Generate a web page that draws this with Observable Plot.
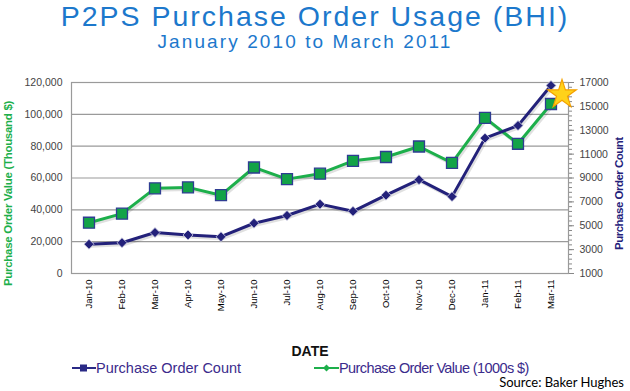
<!DOCTYPE html>
<html>
<head>
<meta charset="utf-8">
<script src="https://cdn.jsdelivr.net/npm/d3@7"></script>
<script src="https://cdn.jsdelivr.net/npm/@observablehq/plot@0.6"></script>
<style>
  html, body { margin: 0; padding: 0; background: #fff; }
  #wrap { position: relative; width: 630px; height: 391px; overflow: hidden; font-family: "Liberation Sans", Arial, sans-serif; }
  .abs { position: absolute; white-space: nowrap; line-height: 1; }
  #title { left: 0; width: 630px; top: 2px; text-align: center; font-size: 28.5px; letter-spacing: 2px; color: #1c78cc; }
  #subtitle { left: 0; width: 610px; top: 31.5px; text-align: center; font-size: 19px; letter-spacing: 2.1px; color: #1c78cc; }
  #chart { position: absolute; left: 0; top: 60px; }
  .ytitle { font-weight: bold; font-size: 11.5px; transform-origin: 0 0; transform: rotate(-90deg); }
  #ylab { left: 3px; top: 286px; color: #1daf4b; letter-spacing: -0.3px; }
  #y2lab { left: 614px; top: 250px; color: #23217a; font-size: 11.5px; letter-spacing: -0.5px; }
  #date { left: 0; width: 620px; top: 344px; text-align: center; font-weight: bold; font-size: 14px; color: #111; }
  .leg { top: 361px; font-size: 14.5px; color: #3b2b8c; display: flex; align-items: center; }
  #src { right: 6px; top: 376px; font-family: Lato, "Open Sans", sans-serif; font-size: 13px; color: #000; }
</style>
</head>
<body>
<div id="wrap">
  <div id="title" class="abs">P2PS Purchase Order Usage (BHI)</div>
  <div id="subtitle" class="abs">January 2010 to March 2011</div>
  <div id="chart"></div>
  <div id="ylab" class="abs ytitle">Purchase Order Value (Thousand $)</div>
  <div id="y2lab" class="abs ytitle">Purchase Order Count</div>
  <div id="date" class="abs">DATE</div>
  <div class="abs leg" style="left:72px"><svg width="24" height="12"><line x1="0" y1="6" x2="24" y2="6" stroke="#2a2a86" stroke-width="2"/><rect x="8" y="2.5" width="7" height="7" fill="#2a2a86"/></svg><span>Purchase Order Count</span></div>
  <div class="abs leg" style="left:314px"><svg width="25" height="12"><line x1="0" y1="6" x2="25" y2="6" stroke="#1daf4b" stroke-width="2"/><path d="M12.5 2.5 L16 6 L12.5 9.5 L9 6 Z" fill="#1daf4b"/></svg><span style="letter-spacing:-0.6px">Purchase Order Value (1000s $)</span></div>
  <div id="src" class="abs">Source: Baker Hughes</div>
</div>
<script>
const months = ["Jan-10","Feb-10","Mar-10","Apr-10","May-10","Jun-10","Jul-10","Aug-10","Sep-10","Oct-10","Nov-10","Dec-10","Jan-11","Feb-11","Mar-11"];
const orderValue = [31900, 37600, 53500, 54100, 49200, 66600, 59300, 62700, 70800, 73200, 79800, 69500, 97800, 81500, 106500];
const orderCount = [3450, 3580, 4430, 4230, 4080, 5210, 5860, 6810, 6210, 7560, 8860, 7440, 12340, 13390, 16750];
const leftTicks = [0, 20000, 40000, 60000, 80000, 100000, 120000];
const rightTicks = [1000, 3000, 5000, 7000, 9000, 11000, 13000, 15000, 17000];

const cMin = 1000, cMax = 17000, vMax = 120000;
const toLeft = c => (c - cMin) / (cMax - cMin) * vMax;
const minorRight = d3.range(cMin, cMax + 1, 400).map(toLeft);

const valueData = months.map((m, i) => ({month: m, v: orderValue[i]}));
const countData = months.map((m, i) => ({month: m, v: toLeft(orderCount[i]), c: orderCount[i]}));
const last = countData[countData.length - 1];

const navy = "#23217a";
const green = "#1daf4b";

const chart = Plot.plot({
  width: 630,
  height: 282,
  marginTop: 22,
  marginBottom: 69,
  marginLeft: 71,
  marginRight: 62,
  style: {fontFamily: "'Liberation Sans', Arial, sans-serif", background: "transparent"},
  x: {type: "band", domain: months, padding: 0},
  y: {domain: [0, vMax]},
  marks: [
    Plot.gridY(leftTicks.slice(1, -1), {stroke: "#9a9a9a", strokeOpacity: 1, strokeWidth: 1.2}),
    Plot.frame({stroke: "#9a9a9a", strokeWidth: 1.2}),
    Plot.axisY(leftTicks, {anchor: "left", tickSize: 0, tickPadding: 9, tickFormat: d3.format(","), fontSize: 10.5, fill: "#444", label: null}),
    Plot.axisY(minorRight, {anchor: "right", tickSize: 3, text: null, stroke: "#888", label: null}),
    Plot.axisY(rightTicks.map(toLeft), {anchor: "right", tickSize: 5, tickPadding: 6, stroke: "#888", tickFormat: d => String(Math.round(d / vMax * (cMax - cMin) + cMin)), fontSize: 10.5, fill: "#444", label: null}),
    Plot.axisX({tickRotate: -90, tickSize: 0, tickPadding: 6, fontSize: 9.5, fill: "#000", label: null}),
    // soft shadows
    Plot.lineY(valueData, {x: "month", y: "v", stroke: "#000", strokeOpacity: 0.12, strokeWidth: 3, dx: 1.5, dy: 2}),
    Plot.lineY(countData, {x: "month", y: "v", stroke: "#000", strokeOpacity: 0.12, strokeWidth: 3, dx: 1.5, dy: 2}),
    Plot.lineY(valueData, {x: "month", y: "v", stroke: green, strokeWidth: 3}),
    Plot.lineY(countData, {x: "month", y: "v", stroke: navy, strokeWidth: 3}),
    Plot.dot(valueData, {x: "month", y: "v", symbol: "square", r: 6.2, fill: "#12a347", stroke: "#2f3d92", strokeWidth: 1.3}),
    Plot.dot(countData, {x: "month", y: "v", symbol: "diamond2", r: 4.5, fill: navy, stroke: "#d8d8e8", strokeWidth: 0.8}),
    Plot.dot([last], {x: "month", y: "v", symbol: "star", r: 9, fill: "#ffd21a", stroke: "#f5a100", strokeWidth: 1.2, dx: 11, dy: 9})
  ]
});
document.getElementById("chart").appendChild(chart);
</script>
</body>
</html>
